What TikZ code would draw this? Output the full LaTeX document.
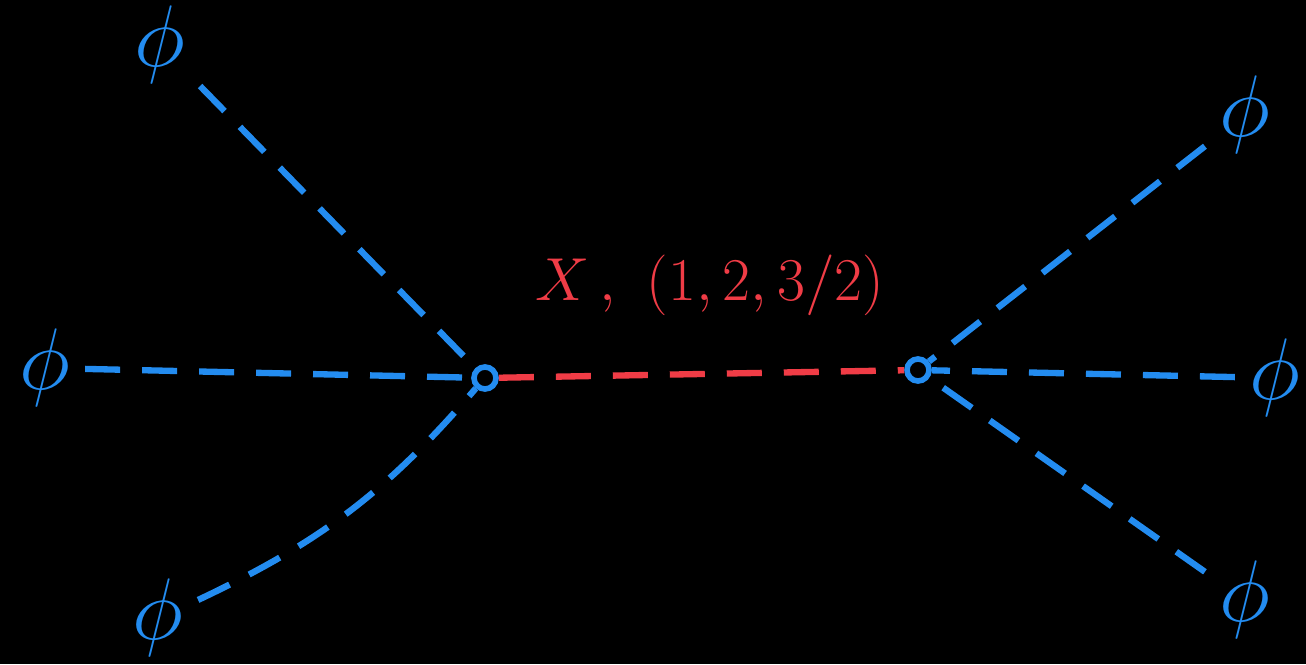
\documentclass[tikz,border=0pt]{standalone}
\usepackage{amsmath}
\definecolor{lineblue}{RGB}{35,140,240}
\definecolor{linered}{RGB}{240,60,70}
\begin{document}
\begin{tikzpicture}[
    ext/.style={text=lineblue, inner sep=4pt, font=\fontsize{26}{28}\selectfont},
    vtx/.style={circle, draw=lineblue, line width=1.6pt, minimum size=0.22cm, inner sep=0pt},
    leg/.style={draw=lineblue, line width=1.8pt, dash pattern=on 0.35cm off 0.22cm},
    prop/.style={draw=linered, line width=1.8pt, dash pattern=on 0.35cm off 0.22cm}
]
    \fill[black] (0,0) rectangle (13.06,6.64);
    \useasboundingbox (0,0) rectangle (13.06,6.64);

    \node[vtx] (v1) at (4.85, 2.86) {};
    \node[vtx] (v2) at (9.18, 2.94) {};

    \node[ext] (f1) at (1.60, 6.19) {$\phi$};
    \node[ext] (f2) at (0.45, 2.96) {$\phi$};
    \node[ext] (f3) at (1.58, 0.46) {$\phi$};
    \node[ext] (f4) at (12.45, 5.49) {$\phi$};
    \node[ext] (f5) at (12.75, 2.86) {$\phi$};
    \node[ext] (f6) at (12.45, 0.64) {$\phi$};

    \path[leg] (f1) -- (v1);
    \path[leg] (f2) -- (v1);
    \path[leg] (f3) to[bend right=12] (v1);
    \path[leg] (f4) -- (v2);
    \path[leg] (f5) -- (v2);
    \path[leg] (f6) -- (v2);

    \path[prop] (v1) -- (v2);
    \node[text=linered, font=\fontsize{19}{21}\selectfont] (lbl) at (7.10, 3.79)
        {$X\,,\ (1,2,3/2)$};
\end{tikzpicture}
\end{document}
